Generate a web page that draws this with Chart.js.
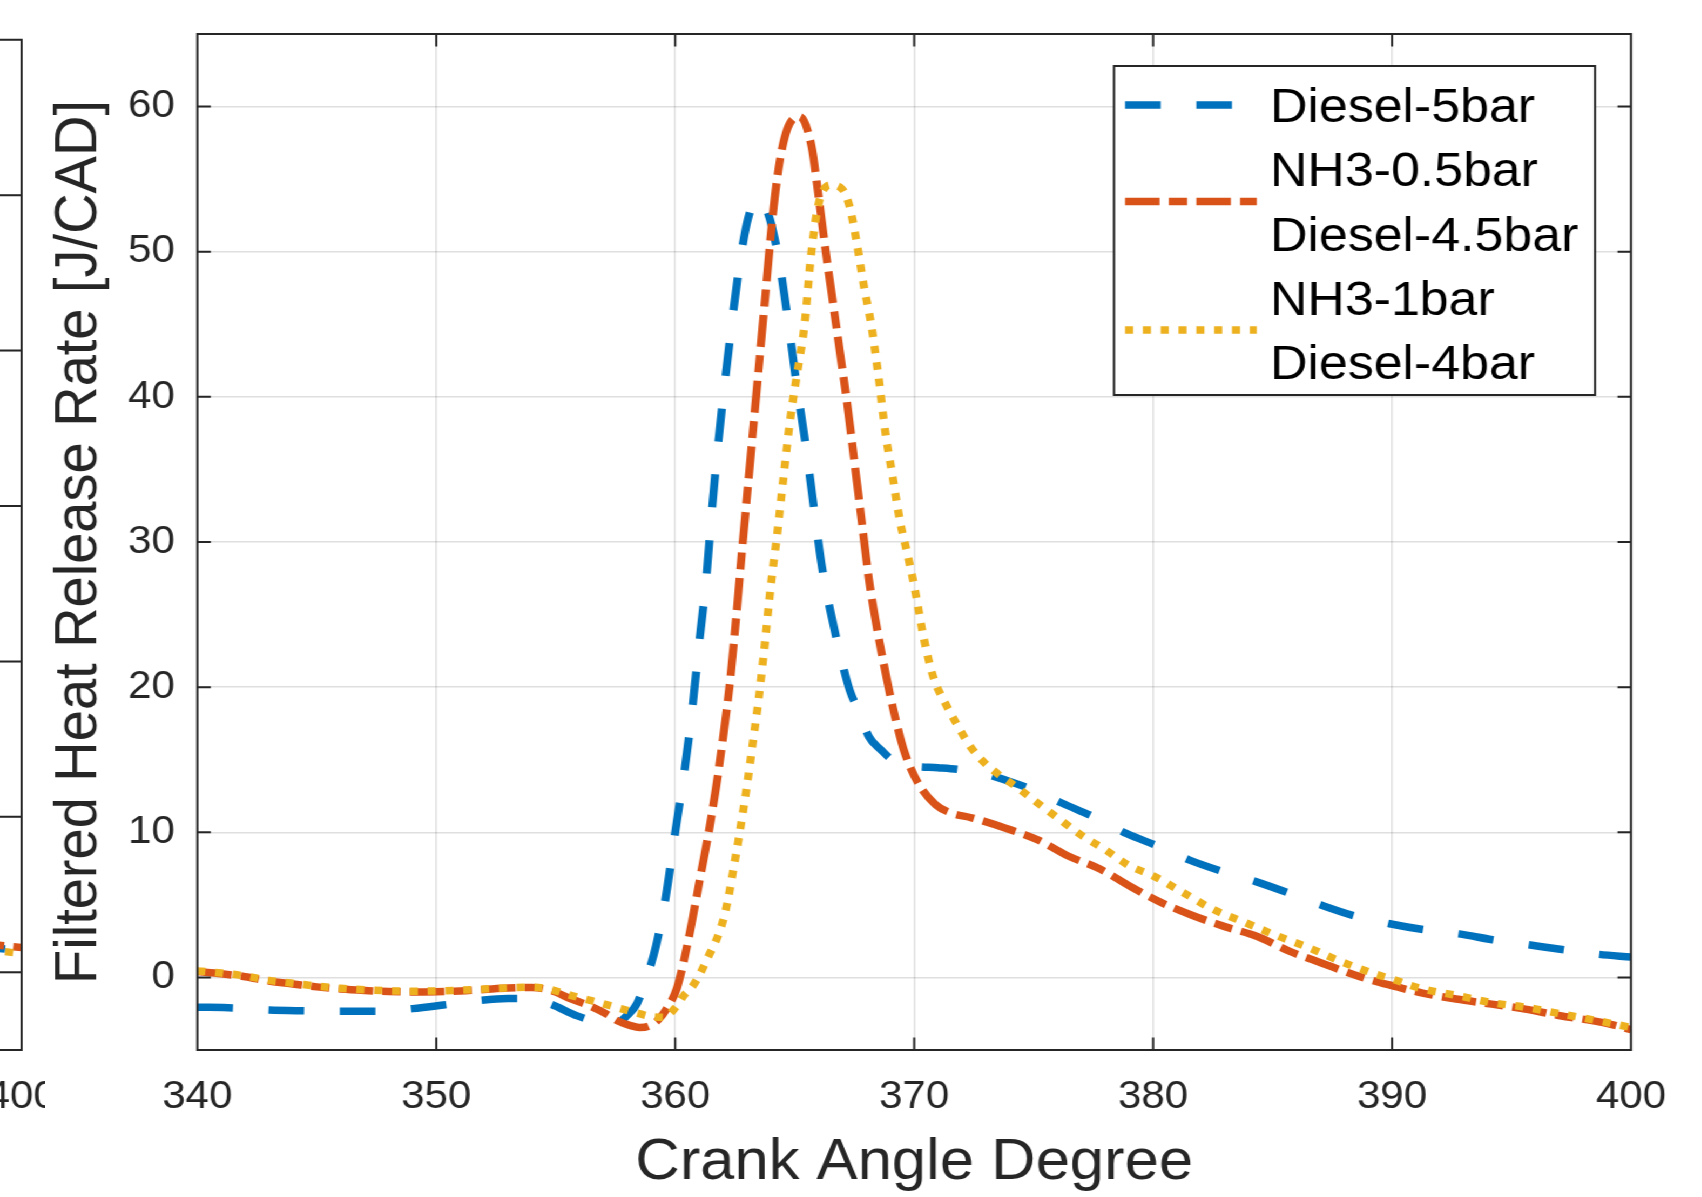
<!DOCTYPE html>
<html>
<head>
<meta charset="utf-8">
<title>Filtered Heat Release Rate</title>
<script src="https://cdn.jsdelivr.net/npm/chart.js@4.4.1/dist/chart.umd.min.js"></script>
<style>
  html, body { margin: 0; padding: 0; background: #fff; overflow: hidden; }
  /* the source figure is a little wider than tall, so the whole drawing is stretched in x */
  #wrap { position: absolute; left: 0; top: 0; width: 1576px; height: 1197px; transform: scaleX(1.08); transform-origin: 0 0; }
  #leftClip { position: absolute; left: 0; top: 0; width: 42px; height: 1197px; overflow: hidden; }
  #leftCanvas { position: absolute; top: 0; left: -320px; }
  #mainCanvas { position: absolute; left: 0; top: 0; }
</style>
</head>
<body>
<div id="wrap">
  <div id="leftClip"><canvas id="leftCanvas" width="400" height="1197"></canvas></div>
  <canvas id="mainCanvas" width="1576" height="1197"></canvas>
</div>
<script>
// values
var xTicks = [340, 350, 360, 370, 380, 390, 400];
var yTicks = [0, 10, 20, 30, 40, 50, 60];
var seriesNames = ['Diesel-5bar', 'NH3-0.5bar Diesel-4.5bar', 'NH3-1bar Diesel-4bar'];
var legendRows = [['Diesel-5bar'], ['NH3-0.5bar', 'Diesel-4.5bar'], ['NH3-1bar', 'Diesel-4bar']];

var blueX = [340, 341.5, 343, 344.5, 346, 347.5, 349, 350.3, 351.7, 353, 354, 354.8, 355.9, 356.8, 357.5, 358, 358.4, 358.9, 359.2, 359.6,
  360, 360.4, 360.7, 361, 361.3, 361.5, 361.75, 362.05, 362.35, 362.7, 363.05, 363.45, 363.85, 364.3, 364.7, 365.05, 365.45, 365.8, 366.15, 366.7,
  367.3, 367.7, 368.1, 368.6, 369.2, 370, 371, 372, 373, 374, 375, 376.2, 377.6, 378.9, 380.2, 381.5, 382.9, 384.3, 385.7, 387,
  388.4, 389.9, 391.3, 392.8, 394.2, 395.7, 397.2, 398.6, 400];
var blueY = [-2.05, -2.1, -2.25, -2.3, -2.33, -2.33, -2.15, -1.9, -1.6, -1.45, -1.45, -1.85, -2.65, -3.1, -3.2, -2.6, -1.8, 0.45, 2.2, 5.5,
  10, 14.4, 18.3, 23, 27.5, 31.5, 36, 40.6, 44.8, 49.2, 52.3, 53.6, 52.8, 49.8, 45.5, 41.2, 36.8, 32.4, 28.2, 23.7,
  19.8, 18.3, 16.6, 15.7, 14.85, 14.55, 14.45, 14.3, 14, 13.5, 12.9, 12, 11, 9.9, 9.05, 8.1, 7.3, 6.6, 5.8, 5.0,
  4.25, 3.7, 3.3, 3.0, 2.6, 2.25, 1.9, 1.6, 1.4];

var orangeX = [340, 341, 342, 343, 344, 345, 346, 347, 348, 349, 350, 351, 352, 353, 354, 354.8, 355.6, 356.4, 357.1, 357.6,
  358.1, 358.5, 358.9, 359.3, 359.7, 360.08, 360.6, 361, 361.4, 361.7, 362, 362.3, 362.55, 362.8, 363.05, 363.3, 363.55, 363.8, 364.05, 364.35,
  364.7, 365.2, 365.7, 366, 366.3, 366.6, 366.9, 367.2, 367.5, 367.8, 368.1, 368.45, 368.8, 369.15, 369.6, 370.2, 370.9, 371.6, 372.4, 373.8,
  375.2, 376.4, 377.8, 379.05, 380.26, 381.6, 383, 384.36, 385.67, 387.07, 388.62, 389.84, 391.28, 392.68, 394.17, 395.57, 397.03, 398.37, 399.2, 400];
var orangeY = [0.4, 0.25, 0.05, -0.25, -0.45, -0.65, -0.8, -0.9, -0.97, -1.0, -0.98, -0.93, -0.83, -0.73, -0.7, -0.9, -1.45, -1.95, -2.5, -3.0,
  -3.3, -3.45, -3.35, -2.9, -2.0, -0.7, 3.0, 6.5, 10.0, 13.0, 16.5, 20.5, 24.8, 29.5, 34, 38.5, 43, 47.5, 52, 56,
  58.5, 59.3, 57.3, 53.8, 50, 46.5, 43, 39.5, 35.5, 31.5, 27.5, 24, 21, 18.3, 15.5, 13.3, 11.9, 11.3, 11.0, 10.3,
  9.46, 8.4, 7.45, 6.26, 5.22, 4.3, 3.5, 2.82, 1.83, 0.98, 0.07, -0.5, -1.08, -1.49, -1.84, -2.18, -2.64, -2.98, -3.25, -3.6];

var yellowX = [340, 341, 342, 343, 344, 345, 346, 347, 348, 349, 350, 351, 352, 353, 354, 354.7, 355.7, 356.5, 357.5, 358.4,
  359, 359.5, 360, 360.35, 360.75, 361.1, 361.4, 361.7, 362, 362.2, 362.45, 362.7, 363, 363.25, 363.5, 363.75, 364, 364.25, 364.5, 364.8,
  365.1, 365.4, 365.7, 366, 366.5, 367, 367.3, 367.6, 367.9, 368.2, 368.5, 368.8, 369.1, 369.4, 369.7, 370, 370.4, 370.8, 371.3, 371.8,
  372.4, 373, 373.6, 374.3, 375.1, 376, 377, 378, 379, 380, 381.2, 382.5, 383.9, 385.2, 386.5, 387.8, 389.1, 390, 391.3, 392.8,
  394.1, 395.6, 397.1, 398.6, 400];
var yellowY = [0.45, 0.3, 0.1, -0.2, -0.4, -0.6, -0.75, -0.85, -0.92, -0.95, -0.93, -0.88, -0.8, -0.72, -0.68, -0.8, -1.27, -1.6, -2.05, -2.45,
  -2.7, -2.75, -2.1, -1.27, -0.55, 0.45, 1.5, 2.5, 3.9, 5.3, 7.6, 10, 13.2, 16.2, 19.3, 23, 27, 30.3, 34, 38.3,
  41.6, 44.8, 50, 53.3, 54.6, 54.3, 53.1, 50.6, 47.6, 45, 41.5, 37.5, 34.5, 31.5, 29.3, 27, 23.4, 20.7, 18.9, 17.4,
  15.8, 14.7, 13.9, 13.1, 12.1, 11, 9.8, 8.8, 7.7, 7.0, 5.9, 4.7, 3.75, 2.86, 2.06, 1.14, 0.34, -0.12, -0.8, -1.27,
  -1.72, -2.06, -2.52, -2.98, -3.45];

// neighbouring subplot on the left, only its right edge is in the picture
var leftXTicks = [380, 390, 400];
var leftYTicks = [0, 10, 20, 30, 40, 50, 60];
var leftX = [396, 398, 400];
var leftBlue = [1.7, 1.55, 1.4];
var leftOrange = [1.9, 1.75, 1.6];
var leftYellow = [1.6, 1.4, 1.2];

// styles
var axisColor = '#262626';
var gridColor = 'rgba(38,38,38,0.15)';
var fontFam = "'Liberation Sans', Arial, Helvetica, sans-serif";
var colors = ['#0072BD', '#D95319', '#EDB120'];
var dashes = [[33, 33], [32, 8.5, 17, 8.5], [7.5, 9]];

function line(label, xs, ys, i) {
  return {
    label: label,
    data: xs.map(function(v, k) { return {x: v, y: ys[k]}; }),
    borderColor: colors[i],
    backgroundColor: colors[i],
    borderWidth: 7.5,
    borderDash: dashes[i],
    borderCapStyle: 'butt',
    borderJoinStyle: 'round',
    pointRadius: 0,
    fill: false,
    cubicInterpolationMode: 'monotone',
    clip: 0,
    order: 2 - i   // later series painted on top, like matlab
  };
}

function fixTicks(list) {
  return function(scale) { scale.ticks = list.map(function(v) { return {value: v}; }); };
}

// keep chart.js from reserving extra room for the end tick labels
function fixWidth(w) {
  return function(s) { s.width = w; s.paddingTop = 0; s.paddingBottom = 0; };
}
function fixHeight(h) {
  return function(s) { s.height = h; s.paddingLeft = 0; s.paddingRight = 0; };
}

// matlab style box with inward tick marks on every side
var boxPlugin = {
  id: 'box',
  afterDatasetsDraw: function(chart, args, opts) {
    var ctx = chart.ctx, a = chart.chartArea, len = opts.len;
    var xs = chart.scales.x, ys = chart.scales.y;
    ctx.save();
    ctx.setLineDash([]);
    ctx.strokeStyle = axisColor;
    ctx.lineWidth = 2;
    ctx.beginPath();
    xs.ticks.forEach(function(t) {
      var p = xs.getPixelForValue(t.value);
      ctx.moveTo(p, a.bottom); ctx.lineTo(p, a.bottom - len);
      ctx.moveTo(p, a.top); ctx.lineTo(p, a.top + len);
    });
    ys.ticks.forEach(function(t) {
      var p = ys.getPixelForValue(t.value);
      ctx.moveTo(a.left, p); ctx.lineTo(a.left + len, p);
      ctx.moveTo(a.right, p); ctx.lineTo(a.right - len, p);
    });
    ctx.rect(a.left, a.top, a.right - a.left, a.bottom - a.top);
    ctx.stroke();
    ctx.restore();
  }
};

// legend: one sample line per series, labels may take two rows
var legendPlugin = {
  id: 'legendBox',
  afterDatasetsDraw: function(chart, args, o) {
    var ctx = chart.ctx, a = chart.chartArea;
    var left = a.right - o.right - o.width, top = a.top + o.top;
    ctx.save();
    ctx.setLineDash([]);
    ctx.fillStyle = '#fff';
    ctx.fillRect(left, top, o.width, o.height);
    ctx.strokeStyle = axisColor;
    ctx.lineWidth = 2;
    ctx.strokeRect(left, top, o.width, o.height);
    ctx.font = o.font;
    ctx.textAlign = 'left';
    ctx.textBaseline = 'middle';
    var row = 0;
    chart.data.datasets.forEach(function(ds, i) {
      var lines = legendRows[i];
      var y0 = top + o.firstRow + row * o.rowH;
      var ym = y0 + (lines.length - 1) * o.rowH / 2;
      ctx.beginPath();
      ctx.setLineDash(ds.borderDash);
      ctx.lineDashOffset = 0;
      ctx.lineCap = 'butt';
      ctx.strokeStyle = ds.borderColor;
      ctx.lineWidth = ds.borderWidth;
      ctx.moveTo(left + o.sampleX, ym);
      ctx.lineTo(left + o.sampleX + o.sampleW, ym);
      ctx.stroke();
      ctx.setLineDash([]);
      ctx.fillStyle = '#000';
      lines.forEach(function(t, k) { ctx.fillText(t, left + o.textX, y0 + o.textDy + k * o.rowH); });
      row += lines.length;
    });
    ctx.restore();
  }
};

var mainChart = new Chart(document.getElementById('mainCanvas'), {
  type: 'line',
  data: {
    datasets: [
      line(seriesNames[0], blueX, blueY, 0),
      line(seriesNames[1], orangeX, orangeY, 1),
      line(seriesNames[2], yellowX, yellowY, 2)
    ]
  },
  options: {
    responsive: false,
    animation: false,
    devicePixelRatio: 1,
    events: [],
    layout: { padding: { left: 0, top: 34, right: 65.8, bottom: 0 } },
    scales: {
      x: {
        type: 'linear', min: 340, max: 400,
        afterBuildTicks: fixTicks(xTicks),
        afterFit: fixHeight(147),
        ticks: { color: axisColor, font: { family: fontFam, size: 39 }, padding: 23.6, maxRotation: 0, autoSkip: false },
        grid: { color: gridColor, lineWidth: 1.5, drawTicks: false },
        border: { display: false },
        title: { display: true, text: 'Crank Angle Degree', color: axisColor,
          font: { family: fontFam, size: 57 }, padding: { top: 0, bottom: 0 } }
      },
      y: {
        type: 'linear', min: -5, max: 65,
        afterBuildTicks: fixTicks(yTicks),
        afterFit: fixWidth(182.7),
        ticks: { color: axisColor, font: { family: fontFam, size: 39 }, padding: 20.7 },
        grid: { color: gridColor, lineWidth: 1.5, drawTicks: false },
        border: { display: false },
        title: { display: true, text: 'Filtered Heat Release Rate [J/CAD]', color: axisColor,
          font: { family: fontFam, size: 56 }, padding: { top: 39.5, bottom: 0 } }
      }
    },
    plugins: {
      legend: { display: false },
      tooltip: { enabled: false },
      box: { len: 12.5 },
      legendBox: { right: 33.3, top: 32, width: 445.4, height: 329, sampleX: 10.2, sampleW: 122,
        textX: 144.4, textDy: 4, firstRow: 39, rowH: 64.25, font: '48px ' + fontFam }
    }
  },
  plugins: [boxPlugin, legendPlugin]
});

var leftChart = new Chart(document.getElementById('leftCanvas'), {
  type: 'line',
  data: {
    datasets: [
      line('blue', leftX, leftBlue, 0),
      line('orange', leftX, leftOrange, 1),
      line('yellow', leftX, leftYellow, 2)
    ]
  },
  options: {
    responsive: false,
    animation: false,
    devicePixelRatio: 1,
    events: [],
    layout: { padding: { left: 0, top: 39.7, right: 60, bottom: 0 } },
    scales: {
      x: {
        type: 'linear', min: 380, max: 400,
        afterBuildTicks: fixTicks(leftXTicks),
        afterFit: fixHeight(147),
        ticks: { color: axisColor, font: { family: fontFam, size: 39 }, padding: 23.6, maxRotation: 0, autoSkip: false },
        grid: { color: gridColor, lineWidth: 1.5, drawTicks: false },
        border: { display: false }
      },
      y: {
        type: 'linear', min: -5, max: 60,
        afterBuildTicks: fixTicks(leftYTicks),
        afterFit: fixWidth(100),
        ticks: { display: false },
        grid: { color: gridColor, lineWidth: 1.5, drawTicks: false },
        border: { display: false }
      }
    },
    plugins: { legend: { display: false }, tooltip: { enabled: false }, box: { len: 22 } }
  },
  plugins: [boxPlugin]
});

// line the left subplot's right border up with x = 20.4 (before stretch)
document.getElementById('leftCanvas').style.left = (20.4 - leftChart.chartArea.right) + 'px';
</script>
</body>
</html>
